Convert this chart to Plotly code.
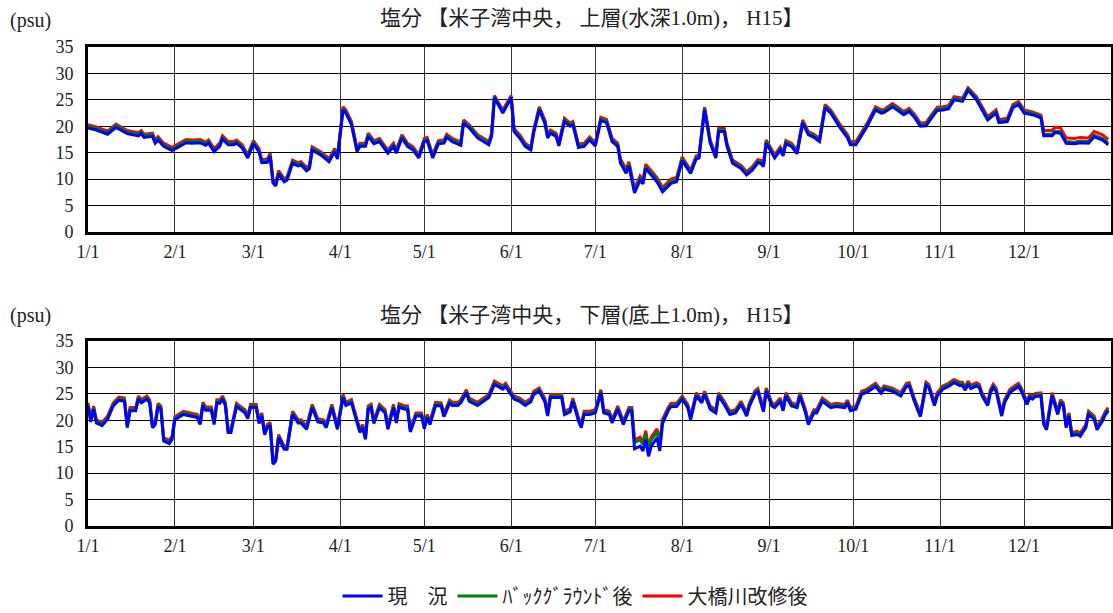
import plotly.graph_objects as go

# ---------------- data ----------------
month_days = [0, 31, 59, 90, 120, 151, 181, 212, 243, 273, 304, 334]
month_labels = ["1/1", "2/1", "3/1", "4/1", "5/1", "6/1", "7/1", "8/1", "9/1", "10/1", "11/1", "12/1"]
y_ticks = [0, 5, 10, 15, 20, 25, 30, 35]

series_names = ["現　況", "ﾊﾞｯｸｸﾞﾗｳﾝﾄﾞ後", "大橋川改修後"]

# upper layer (day of year from 1/1)
days_top = [0, 3, 7, 10, 14, 18, 19, 20, 23, 24,
            25, 27, 30, 35, 37, 40, 42, 43, 45, 47,
            48, 50, 52, 53, 55, 57, 59, 61, 62, 64,
            65, 66, 67, 68, 70, 71, 73, 75, 76, 78,
            79, 80, 83, 86, 88, 89, 91, 92, 94, 96,
            97, 99, 100, 102, 104, 107, 109, 110, 112, 114,
            116, 118, 120, 121, 123, 125, 127, 128, 130, 133,
            134, 136, 139, 141, 143, 144, 145, 148, 151, 152,
            154, 156, 158, 159, 161, 163, 164, 165, 167, 168,
            170, 172, 173, 175, 177, 179, 181, 183, 185, 187,
            189, 190, 192, 193, 195, 197, 198, 199, 201, 203,
            205, 206, 208, 210, 212, 215, 217, 218, 220, 222,
            224, 225, 227, 228, 230, 233, 235, 237, 239, 240,
            241, 242, 245, 247, 248, 249, 251, 253, 255, 257,
            259, 261, 263, 265, 268, 271, 272, 274, 277, 278,
            281, 283, 284, 287, 289, 291, 293, 295, 297, 299,
            301, 303, 305, 307, 309, 312, 314, 317, 319, 321,
            324, 325, 328, 330, 332, 334, 337, 340, 341, 344,
            345, 347, 349, 352, 354, 357, 359, 362, 364]

genkyo_top = [19.7, 19.3, 18.5, 19.8, 18.6, 18.2, 18.6, 17.9, 18.1, 16.8,
              17.4, 16.2, 15.4, 16.9, 16.8, 16.9, 16.4, 16.8, 15.2, 16.2,
              17.6, 16.5, 16.5, 16.8, 15.9, 14.0, 16.7, 15.2, 13.1, 13.2,
              14.3, 9.3, 8.7, 11.0, 9.5, 9.8, 13.0, 12.5, 12.7, 11.6,
              12.0, 15.5, 14.6, 13.3, 15.2, 13.8, 23.1, 22.5, 20.3, 15.2,
              16.2, 16.2, 18.1, 16.7, 17.1, 14.9, 16.2, 14.9, 17.8, 16.2,
              15.5, 14.0, 17.1, 17.3, 14.0, 16.7, 16.8, 17.9, 17.1, 16.4,
              20.6, 19.7, 17.8, 17.1, 16.5, 18.1, 25.4, 22.5, 25.4, 19.0,
              17.8, 16.2, 15.5, 18.7, 23.1, 20.6, 17.8, 18.7, 18.1, 16.3,
              20.9, 20.0, 20.3, 16.0, 16.2, 17.4, 16.3, 21.1, 20.7, 17.1,
              16.2, 13.0, 11.1, 12.5, 7.4, 9.8, 9.1, 12.0, 10.8, 9.5,
              7.6, 8.1, 9.2, 9.5, 13.5, 11.1, 13.8, 14.0, 23.1, 16.8,
              14.0, 19.0, 19.0, 16.2, 13.0, 12.0, 10.8, 11.7, 13.1, 13.0,
              12.4, 16.8, 14.0, 15.5, 14.4, 16.7, 16.2, 14.8, 20.6, 18.4,
              17.9, 17.1, 23.5, 22.5, 20.0, 17.8, 16.5, 16.5, 19.0, 20.0,
              23.1, 22.5, 22.6, 23.7, 23.0, 22.2, 22.8, 21.6, 20.0, 20.1,
              21.6, 23.0, 23.1, 23.3, 25.0, 24.7, 26.8, 25.0, 23.1, 21.2,
              22.5, 20.7, 20.9, 23.5, 24.1, 22.5, 22.2, 21.6, 18.2, 18.2,
              18.8, 18.7, 16.8, 16.7, 16.9, 16.8, 18.0, 17.4, 16.5]

bg_top = [20.0, 19.6, 18.8, 20.1, 18.9, 18.5, 18.9, 18.2, 18.4, 17.1,
          17.7, 16.5, 15.7, 17.2, 17.1, 17.2, 16.7, 17.1, 15.5, 16.5,
          17.9, 16.8, 16.8, 17.1, 16.2, 14.3, 17.0, 15.5, 13.4, 13.5,
          14.6, 9.6, 9.0, 11.3, 9.8, 10.1, 13.3, 12.8, 13.0, 11.9,
          12.3, 15.8, 14.9, 13.6, 15.5, 14.1, 23.4, 22.8, 20.6, 15.5,
          16.5, 16.5, 18.4, 17.0, 17.4, 15.2, 16.5, 15.2, 18.1, 16.5,
          15.8, 14.3, 17.4, 17.6, 14.3, 17.0, 17.1, 18.2, 17.4, 16.7,
          20.9, 20.0, 18.1, 17.4, 16.8, 18.4, 25.6, 22.8, 25.6, 19.3,
          18.1, 16.5, 15.8, 19.0, 23.4, 20.9, 18.1, 19.0, 18.4, 16.6,
          21.2, 20.3, 20.6, 16.3, 16.5, 17.7, 16.6, 21.4, 21.0, 17.4,
          16.5, 13.4, 11.5, 12.9, 7.8, 10.2, 9.5, 12.4, 11.2, 9.9,
          8.0, 8.5, 9.6, 9.9, 13.9, 11.4, 14.1, 14.3, 23.4, 17.1,
          14.3, 19.3, 19.3, 16.5, 13.3, 12.3, 11.1, 12.0, 13.4, 13.3,
          12.7, 17.1, 14.3, 15.8, 14.7, 17.0, 16.5, 15.1, 20.9, 18.7,
          18.2, 17.4, 23.8, 22.8, 20.3, 18.1, 16.8, 16.8, 19.3, 20.3,
          23.4, 22.8, 22.9, 24.0, 23.3, 22.5, 23.1, 21.9, 20.3, 20.4,
          21.9, 23.3, 23.4, 23.6, 25.3, 25.0, 27.1, 25.3, 23.4, 21.5,
          22.8, 21.0, 21.2, 23.8, 24.4, 22.8, 22.5, 21.9, 18.5, 18.5,
          19.1, 19.0, 17.1, 17.0, 17.2, 17.1, 18.3, 17.7, 16.8]

ohashi_top = [20.3, 19.9, 19.1, 20.4, 19.2, 18.8, 19.2, 18.5, 18.7, 17.4,
              18.0, 16.8, 16.0, 17.5, 17.4, 17.5, 17.0, 17.4, 15.8, 16.8,
              18.2, 17.1, 17.1, 17.4, 16.5, 14.6, 17.3, 15.8, 13.7, 13.8,
              14.9, 9.9, 9.3, 11.6, 10.1, 10.4, 13.6, 13.1, 13.3, 12.2,
              12.6, 16.1, 15.2, 13.9, 15.8, 14.4, 23.7, 23.1, 20.9, 15.8,
              16.8, 16.8, 18.7, 17.3, 17.7, 15.5, 16.8, 15.5, 18.4, 16.8,
              16.1, 14.6, 17.7, 17.9, 14.6, 17.3, 17.4, 18.5, 17.7, 17.0,
              21.2, 20.3, 18.4, 17.7, 17.1, 18.7, 25.8, 23.1, 25.8, 19.6,
              18.4, 16.8, 16.1, 19.3, 23.7, 21.2, 18.4, 19.3, 18.7, 16.9,
              21.5, 20.6, 20.9, 16.6, 16.8, 18.0, 16.9, 21.7, 21.3, 17.7,
              16.8, 13.8, 11.9, 13.3, 8.2, 10.6, 9.9, 12.8, 11.6, 10.3,
              8.4, 8.9, 10.0, 10.3, 14.2, 11.7, 14.4, 14.6, 23.6, 17.4,
              14.6, 19.6, 19.6, 16.8, 13.6, 12.6, 11.4, 12.3, 13.7, 13.6,
              13.0, 17.4, 14.6, 16.1, 15.0, 17.3, 16.8, 15.4, 21.2, 19.0,
              18.5, 17.7, 24.1, 23.1, 20.6, 18.4, 17.1, 17.1, 19.6, 20.6,
              23.7, 23.1, 23.2, 24.3, 23.6, 22.8, 23.4, 22.2, 20.6, 20.7,
              22.2, 23.6, 23.7, 23.9, 25.6, 25.3, 27.3, 25.6, 23.7, 21.8,
              23.1, 21.3, 21.5, 24.1, 24.7, 23.1, 22.7, 22.1, 19.2, 19.2,
              19.8, 19.7, 17.8, 17.7, 17.9, 17.8, 19.0, 18.4, 17.5]

# lower layer
days_bot = [0, 1, 2, 3, 5, 7, 9, 11, 13, 14,
            15, 17, 18, 19, 21, 22, 23, 24, 25, 26,
            27, 29, 30, 31, 34, 37, 39, 40, 41, 42,
            44, 45, 46, 47, 48, 49, 50, 51, 53, 55,
            56, 57, 58, 60, 61, 62, 63, 64, 65, 66,
            67, 68, 70, 71, 72, 73, 75, 76, 78, 79,
            80, 82, 84, 85, 87, 89, 91, 92, 94, 95,
            97, 98, 99, 100, 101, 102, 104, 106, 107, 109,
            110, 111, 113, 114, 115, 117, 119, 120, 121, 122,
            124, 126, 127, 129, 130, 132, 133, 135, 136, 139,
            141, 143, 145, 148, 149, 152, 154, 156, 158, 159,
            161, 163, 164, 165, 169, 170, 172, 173, 175, 176,
            177, 179, 181, 183, 184, 186, 187, 189, 191, 193,
            194, 195, 197, 198, 199, 200, 201, 203, 204, 205,
            207, 208, 210, 212, 214, 215, 217, 219, 220, 222,
            224, 225, 227, 229, 231, 233, 235, 236, 238, 239,
            241, 242, 244, 245, 247, 248, 249, 251, 253, 254,
            256, 257, 259, 260, 262, 265, 267, 270, 271, 272,
            274, 276, 278, 280, 281, 283, 284, 287, 290, 292,
            293, 295, 297, 298, 299, 300, 302, 303, 305, 307,
            309, 311, 312, 313, 314, 315, 317, 318, 319, 321,
            322, 323, 324, 326, 327, 329, 331, 332, 333, 335,
            336, 337, 338, 340, 341, 342, 344, 346, 347, 348,
            349, 350, 351, 353, 354, 356, 357, 359, 360, 362,
            363, 364]

genkyo_bot = [22.7, 19.7, 22.1, 19.5, 19.0, 20.2, 22.7, 23.8, 23.6, 18.6,
              21.8, 21.8, 24.0, 23.3, 24.0, 23.3, 18.6, 19.2, 22.6, 22.1,
              16.1, 15.6, 16.4, 20.1, 21.1, 20.8, 20.5, 19.2, 22.8, 21.9,
              21.9, 19.2, 23.3, 23.2, 24.0, 22.8, 17.7, 17.7, 22.6, 21.8,
              21.4, 20.3, 22.4, 22.4, 19.4, 20.8, 17.3, 18.6, 19.0, 11.7,
              12.3, 16.7, 14.5, 14.5, 18.0, 21.1, 19.5, 19.5, 18.3, 20.5,
              22.4, 19.7, 19.5, 18.6, 22.4, 18.3, 24.3, 22.8, 23.3, 21.4,
              17.7, 18.6, 16.4, 22.1, 22.4, 19.4, 22.4, 21.4, 18.3, 22.4,
              19.5, 22.5, 22.1, 22.1, 17.8, 20.8, 20.8, 18.4, 20.5, 19.2,
              22.8, 22.7, 20.7, 23.2, 22.8, 22.8, 23.3, 25.2, 23.6, 22.8,
              23.6, 24.3, 26.8, 25.9, 26.4, 24.0, 23.6, 22.8, 23.5, 24.9,
              25.5, 23.5, 20.8, 24.3, 24.3, 21.1, 21.6, 23.6, 19.9, 18.6,
              21.1, 21.1, 21.4, 25.2, 21.4, 21.1, 19.5, 22.1, 19.2, 21.8,
              21.8, 14.6, 15.1, 14.2, 16.3, 13.2, 15.1, 16.7, 14.2, 19.4,
              21.8, 22.6, 22.6, 24.0, 22.4, 20.1, 24.6, 23.3, 24.9, 22.1,
              21.4, 24.6, 23.0, 21.1, 21.4, 23.0, 20.8, 22.7, 25.0, 25.4,
              21.6, 25.5, 22.7, 22.4, 23.6, 21.8, 24.6, 22.7, 22.4, 24.6,
              21.4, 19.2, 21.4, 21.4, 23.6, 22.4, 22.6, 22.4, 23.2, 21.8,
              22.1, 24.9, 25.3, 26.0, 26.4, 25.1, 25.9, 25.5, 24.6, 26.4,
              26.5, 23.3, 20.7, 23.6, 26.6, 26.2, 22.8, 24.6, 25.9, 26.4,
              27.1, 26.6, 26.6, 25.7, 26.8, 26.0, 26.5, 26.2, 24.6, 22.8,
              25.2, 26.2, 25.5, 20.8, 23.3, 25.3, 26.0, 26.4, 25.5, 23.0,
              24.3, 24.0, 24.5, 24.6, 19.2, 18.2, 24.6, 21.1, 23.3, 22.7,
              18.6, 20.8, 17.1, 17.3, 17.0, 18.6, 21.1, 20.2, 18.2, 19.9,
              21.1, 21.8]

bg_bot = [23.0, 20.0, 22.4, 19.8, 19.3, 20.5, 23.0, 24.1, 23.9, 18.9,
          22.1, 22.1, 24.3, 23.6, 24.3, 23.6, 18.9, 19.5, 22.9, 22.4,
          16.4, 15.9, 16.7, 20.4, 21.4, 21.1, 20.8, 19.5, 23.1, 22.2,
          22.2, 19.5, 23.6, 23.5, 24.3, 23.1, 18.0, 18.0, 22.9, 22.1,
          21.7, 20.6, 22.7, 22.7, 19.7, 21.1, 17.6, 18.9, 19.3, 12.0,
          12.6, 17.0, 14.8, 14.8, 18.3, 21.4, 19.8, 19.8, 18.6, 20.8,
          22.7, 20.0, 19.8, 18.9, 22.7, 18.6, 24.6, 23.1, 23.6, 21.7,
          18.0, 18.9, 16.7, 22.4, 22.7, 19.7, 22.7, 21.7, 18.6, 22.7,
          19.8, 22.8, 22.4, 22.4, 18.1, 21.1, 21.1, 18.7, 20.8, 19.5,
          23.1, 23.0, 21.0, 23.5, 23.1, 23.1, 23.6, 25.5, 23.9, 23.1,
          23.9, 24.6, 27.1, 26.2, 26.7, 24.3, 23.9, 23.1, 23.8, 25.2,
          25.8, 23.8, 21.1, 24.6, 24.6, 21.4, 21.9, 23.9, 20.2, 18.9,
          21.4, 21.4, 21.7, 25.5, 21.7, 21.4, 19.8, 22.4, 19.5, 22.1,
          22.2, 15.8, 16.3, 15.4, 17.4, 14.4, 16.3, 17.8, 15.4, 19.8,
          22.1, 22.9, 22.9, 24.3, 22.7, 20.4, 24.9, 23.6, 25.2, 22.4,
          21.7, 24.9, 23.3, 21.4, 21.7, 23.3, 21.1, 23.0, 25.3, 25.7,
          21.9, 25.8, 23.0, 22.7, 23.9, 22.1, 24.9, 23.0, 22.7, 24.9,
          21.7, 19.5, 21.7, 21.7, 23.9, 22.7, 22.9, 22.7, 23.5, 22.1,
          22.4, 25.2, 25.6, 26.3, 26.7, 25.4, 26.2, 25.8, 24.9, 26.7,
          26.8, 23.6, 21.0, 23.9, 26.9, 26.5, 23.1, 24.9, 26.2, 26.7,
          27.4, 26.9, 26.9, 26.0, 27.1, 26.3, 26.8, 26.5, 24.9, 23.1,
          25.5, 26.5, 25.8, 21.1, 23.6, 25.6, 26.3, 26.7, 25.8, 23.3,
          24.6, 24.3, 24.8, 24.9, 19.5, 18.5, 24.9, 21.4, 23.6, 23.0,
          18.9, 21.1, 17.4, 17.6, 17.3, 18.9, 21.4, 20.5, 18.5, 20.2,
          21.4, 22.1]

ohashi_bot = [23.3, 20.3, 22.7, 20.1, 19.6, 20.8, 23.3, 24.4, 24.2, 19.2,
              22.4, 22.4, 24.6, 23.9, 24.6, 23.9, 19.2, 19.8, 23.2, 22.7,
              16.7, 16.2, 17.0, 20.7, 21.7, 21.4, 21.1, 19.8, 23.4, 22.5,
              22.5, 19.8, 23.9, 23.8, 24.6, 23.4, 18.3, 18.3, 23.2, 22.4,
              22.0, 20.9, 23.0, 23.0, 20.0, 21.4, 17.9, 19.2, 19.6, 12.3,
              12.9, 17.3, 15.1, 15.1, 18.6, 21.7, 20.1, 20.1, 18.9, 21.1,
              23.0, 20.3, 20.1, 19.2, 23.0, 18.9, 24.9, 23.4, 23.9, 22.0,
              18.3, 19.2, 17.0, 22.7, 23.0, 20.0, 23.0, 22.0, 18.9, 23.0,
              20.1, 23.1, 22.7, 22.7, 18.4, 21.4, 21.4, 19.0, 21.1, 19.8,
              23.4, 23.3, 21.3, 23.8, 23.4, 23.4, 23.9, 25.8, 24.2, 23.4,
              24.2, 24.9, 27.4, 26.5, 27.0, 24.6, 24.2, 23.4, 24.1, 25.5,
              26.1, 24.1, 21.4, 24.9, 24.9, 21.7, 22.2, 24.2, 20.5, 19.2,
              21.7, 21.7, 22.0, 25.8, 22.0, 21.7, 20.1, 22.7, 19.8, 22.4,
              22.4, 16.3, 16.8, 15.9, 18.0, 14.9, 16.8, 18.4, 15.9, 20.2,
              22.4, 23.2, 23.2, 24.6, 23.0, 20.7, 25.2, 23.9, 25.5, 22.7,
              22.0, 25.2, 23.6, 21.7, 22.0, 23.6, 21.4, 23.3, 25.6, 26.0,
              22.2, 26.1, 23.3, 23.0, 24.2, 22.4, 25.2, 23.3, 23.0, 25.2,
              22.0, 19.8, 22.0, 22.0, 24.2, 23.0, 23.2, 23.0, 23.8, 22.4,
              22.7, 25.5, 25.9, 26.6, 27.0, 25.7, 26.5, 26.1, 25.2, 27.0,
              27.1, 23.9, 21.3, 24.2, 27.2, 26.8, 23.4, 25.2, 26.5, 27.0,
              27.7, 27.2, 27.2, 26.3, 27.4, 26.6, 27.1, 26.8, 25.2, 23.4,
              25.8, 26.8, 26.1, 21.4, 23.9, 25.9, 26.6, 27.0, 26.1, 23.6,
              24.9, 24.6, 25.1, 25.2, 19.8, 18.8, 25.2, 21.7, 23.9, 23.3,
              19.2, 21.4, 17.7, 17.9, 17.6, 19.2, 21.7, 20.8, 18.8, 20.5,
              21.7, 22.4]

title_top = "塩分 【米子湾中央， 上層(水深1.0m)， H15】"
title_bot = "塩分 【米子湾中央， 下層(底上1.0m)， H15】"
unit_label = "(psu)"

# ---------------- figure ----------------
W, H = 1113, 613
colors = {"genkyo": "#0000FF", "bg": "#008000", "ohashi": "#FF0000"}
SERIF = "Liberation Serif, Noto Sans CJK JP, serif"
CJK = "Noto Sans CJK JP, sans-serif"

fig = go.Figure()

panels = [
    (days_top, genkyo_top, bg_top, ohashi_top, "x", "y", True),
    (days_bot, genkyo_bot, bg_bot, ohashi_bot, "x2", "y2", False),
]
for days, g, b, o, xa, ya, show in panels:
    fig.add_trace(go.Scatter(x=days, y=o, mode="lines", name=series_names[2],
                             line=dict(color=colors["ohashi"], width=3),
                             xaxis=xa, yaxis=ya, showlegend=show, legendrank=3,
                             legendgroup="o"))
    fig.add_trace(go.Scatter(x=days, y=b, mode="lines", name=series_names[1],
                             line=dict(color=colors["bg"], width=3),
                             xaxis=xa, yaxis=ya, showlegend=show, legendrank=2,
                             legendgroup="b"))
    fig.add_trace(go.Scatter(x=days, y=g, mode="lines", name=series_names[0],
                             line=dict(color=colors["genkyo"], width=3),
                             xaxis=xa, yaxis=ya, showlegend=show, legendrank=1,
                             legendgroup="g"))

x_dom = [88 / W, 1111 / W]
top_dom = [1 - 232 / H, 1 - 47 / H]
bot_dom = [1 - 526 / H, 1 - 341 / H]

xcommon = dict(range=[0, 365], tickmode="array", tickvals=month_days, ticktext=month_labels,
               showgrid=True, gridcolor="#333333", gridwidth=1, zeroline=False,
               showline=True, linecolor="black", linewidth=3, mirror=True,
               ticks="", ticklabelstandoff=1, automargin=False,
               tickfont=dict(family=SERIF, size=18, color="#222222"))
ycommon = dict(range=[0, 35], tickmode="array", tickvals=y_ticks,
               showgrid=True, gridcolor="black", gridwidth=1, zeroline=False,
               showline=True, linecolor="black", linewidth=3, mirror=True,
               ticks="", ticklabelstandoff=8, automargin=False,
               tickfont=dict(family=SERIF, size=18, color="#222222"))

fig.update_layout(
    width=W, height=H,
    margin=dict(l=0, r=0, t=0, b=0, pad=0, autoexpand=False),
    paper_bgcolor="white", plot_bgcolor="white",
    xaxis=dict(domain=x_dom, anchor="y", **xcommon),
    yaxis=dict(domain=top_dom, anchor="x", **ycommon),
    xaxis2=dict(domain=x_dom, anchor="y2", **xcommon),
    yaxis2=dict(domain=bot_dom, anchor="x2", **ycommon),
    legend=dict(orientation="h", x=575 / W, xanchor="center", y=1 - 596 / H, yanchor="middle",
                font=dict(family=CJK, size=20, color="#222222"), bgcolor="rgba(0,0,0,0)",
                itemwidth=40, tracegroupgap=0),
    showlegend=True,
)

for title, ty in [(title_top, 18), (title_bot, 315)]:
    fig.add_annotation(text=title, xref="paper", yref="paper", x=592 / W, y=1 - ty / H,
                       xanchor="center", yanchor="middle", showarrow=False,
                       font=dict(family=SERIF, size=21, color="#222222"))
for uy in [20, 315]:
    fig.add_annotation(text=unit_label, xref="paper", yref="paper", x=8 / W, y=1 - uy / H,
                       xanchor="left", yanchor="middle", showarrow=False,
                       font=dict(family=SERIF, size=20, color="#222222"))

fig.write_html("out.html", config={"displayModeBar": False},
               post_script="document.body.style.margin='0';document.body.style.padding='0';"
                           "document.documentElement.style.overflow='hidden';")
